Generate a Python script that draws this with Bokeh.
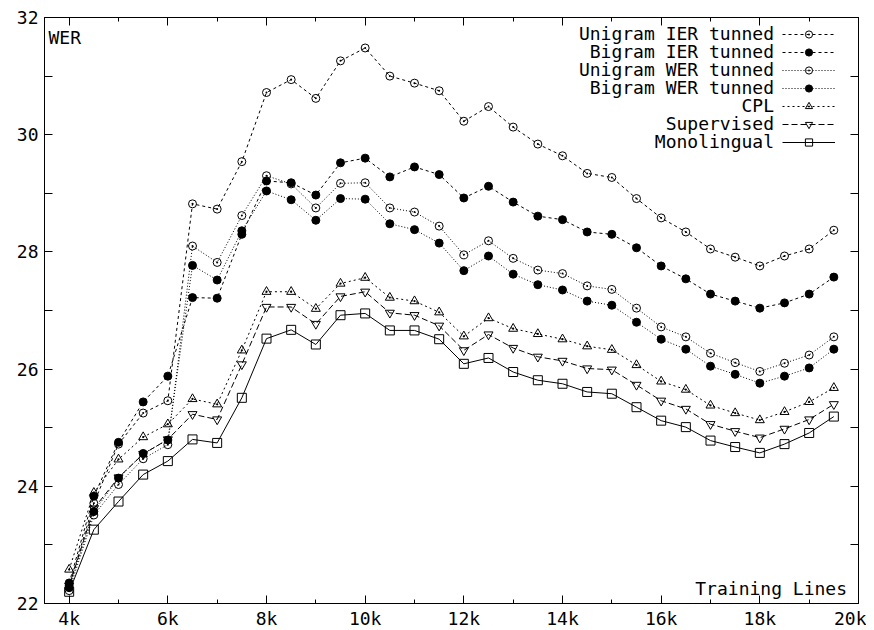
from bokeh.plotting import figure
from bokeh.models import (Range1d, FixedTicker, LinearAxis, PrintfTickFormatter,
                          CustomJSTickFormatter, Label, Legend, LegendItem)
from bokeh.embed import file_html
from bokeh.resources import INLINE

# ---------------- data ----------------
training_k = [4, 4.5, 5, 5.5, 6, 6.5, 7, 7.5, 8, 8.5, 9, 9.5, 10, 10.5, 11, 11.5,
              12, 12.5, 13, 13.5, 14, 14.5, 15, 15.5, 16, 16.5, 17, 17.5, 18, 18.5, 19, 19.5]

unigram_ier = [22.30, 23.71, 24.72, 25.25, 25.46, 28.82, 28.73, 29.54, 30.72, 30.94, 30.62, 31.26,
               31.48, 31.00, 30.88, 30.75, 30.23, 30.48, 30.13, 29.84, 29.64, 29.34, 29.27, 28.91,
               28.58, 28.34, 28.05, 27.91, 27.76, 27.93, 28.05, 28.37]
bigram_ier = [22.35, 23.83, 24.75, 25.44, 25.88, 27.22, 27.21, 28.30, 29.21, 29.18, 28.97, 29.52,
              29.60, 29.28, 29.45, 29.32, 28.92, 29.12, 28.85, 28.61, 28.55, 28.34, 28.30, 28.07,
              27.76, 27.54, 27.28, 27.16, 27.04, 27.13, 27.28, 27.57]
unigram_wer = [22.22, 23.51, 24.03, 24.47, 24.71, 28.10, 27.82, 28.62, 29.30, 29.16, 28.75, 29.17,
               29.18, 28.75, 28.68, 28.44, 27.95, 28.19, 27.89, 27.69, 27.63, 27.42, 27.36, 27.04,
               26.72, 26.55, 26.27, 26.11, 25.96, 26.10, 26.24, 26.55]
bigram_wer = [22.27, 23.57, 24.14, 24.56, 24.79, 27.77, 27.52, 28.36, 29.04, 28.89, 28.54, 28.91,
              28.90, 28.48, 28.38, 28.15, 27.68, 27.93, 27.62, 27.44, 27.35, 27.16, 27.09, 26.80,
              26.51, 26.34, 26.05, 25.91, 25.76, 25.88, 26.02, 26.34]
cpl = [22.58, 23.89, 24.46, 24.84, 25.06, 25.49, 25.40, 26.32, 27.32, 27.32, 27.03, 27.46,
       27.56, 27.22, 27.16, 26.97, 26.56, 26.87, 26.69, 26.60, 26.51, 26.39, 26.33, 26.07,
       25.79, 25.65, 25.38, 25.25, 25.13, 25.27, 25.44, 25.68]
supervised = [22.30, 23.62, 24.15, 24.55, 24.80, 25.23, 25.14, 26.08, 27.06, 27.06, 26.77, 27.24,
              27.32, 26.96, 26.92, 26.74, 26.32, 26.59, 26.36, 26.21, 26.14, 26.01, 25.99, 25.73,
              25.46, 25.32, 25.06, 24.94, 24.83, 24.98, 25.14, 25.40]
monolingual = [22.20, 23.26, 23.74, 24.20, 24.43, 24.80, 24.74, 25.51, 26.52, 26.67, 26.42, 26.92,
               26.95, 26.66, 26.66, 26.51, 26.09, 26.19, 25.95, 25.81, 25.75, 25.61, 25.58, 25.35,
               25.12, 25.01, 24.78, 24.67, 24.57, 24.72, 24.91, 25.19]

series_names = ["Unigram IER tunned", "Bigram IER tunned", "Unigram WER tunned",
                "Bigram WER tunned", "CPL", "Supervised", "Monolingual"]

x_major_ticks = [4, 6, 8, 10, 12, 14, 16, 18, 20]
x_minor_ticks = [5, 7, 9, 11, 13, 15, 17, 19]
y_major_ticks = [22, 24, 26, 28, 30, 32]
y_minor_ticks = [23, 25, 27, 29, 31]

# ---------------- layout ----------------
X0, X1, Y0, Y1 = 3.5, 20, 22, 32
FL, FT, FW, FH = 44, 17, 814, 586   # frame position in the picture
FONT = "DejaVu Sans Mono"
FS = "18px"


def dx(px):
    return X0 + (px - FL) / FW * (X1 - X0)


def dy(py):
    return Y1 - (py - FT) / FH * (Y1 - Y0)


p = figure(frame_width=FW, frame_height=FH, x_range=Range1d(X0, X1), y_range=Range1d(Y0, Y1),
           output_backend="svg", toolbar_location=None,
           min_border_left=44, min_border_top=17, min_border_right=8, min_border_bottom=0)
p.xgrid.visible = False
p.ygrid.visible = False
p.outline_line_color = "black"
p.background_fill_color = "white"


def style_axis(ax, ticks, minor, show_labels, minor_len, standoff):
    ax.ticker = FixedTicker(ticks=ticks, minor_ticks=minor)
    ax.axis_line_color = "black"
    ax.major_tick_line_color = "black"
    ax.minor_tick_line_color = "black"
    ax.major_tick_in = 8
    ax.major_tick_out = 0
    ax.minor_tick_in = minor_len
    ax.minor_tick_out = 0
    ax.major_label_text_font = FONT
    ax.major_label_text_color = "black"
    ax.major_label_text_font_size = FS
    if show_labels:
        ax.major_label_standoff = standoff
    else:
        ax.formatter = CustomJSTickFormatter(code="return '';")
        ax.major_label_standoff = 0


style_axis(p.xaxis[0], x_major_ticks, x_minor_ticks, True, 4, 4)
p.xaxis[0].formatter = PrintfTickFormatter(format="%dk")
style_axis(p.yaxis[0], y_major_ticks, y_minor_ticks, True, 8, 6)

top = LinearAxis()
style_axis(top, x_major_ticks, x_minor_ticks, False, 4, 0)
p.add_layout(top, "above")
right = LinearAxis()
style_axis(right, y_major_ticks, y_minor_ticks, False, 8, 0)
p.add_layout(right, "right")

styles = [
    (unigram_ier, "3 3", "circle_dot", 8, None),
    (bigram_ier, "3 3", "circle", 8, "black"),
    (unigram_wer, "1 2", "circle_dot", 8, None),
    (bigram_wer, "1 2", "circle", 8, "black"),
    (cpl, "2 3", "triangle_dot", 9, None),
    (supervised, "6 3", "inverted_triangle", 9, None),
    (monolingual, "solid", "square", 9, None),
]

items = []
for name, (vals, dash, marker, size, fill) in zip(series_names, styles):
    lr = p.line(training_k, vals, line_color="black", line_width=1, line_dash=dash)
    if fill is None:
        sr = p.scatter(training_k, vals, marker=marker, size=size, line_color="black",
                       line_width=1, fill_alpha=0)
    else:
        sr = p.scatter(training_k, vals, marker=marker, size=size, line_color="black",
                       line_width=1, fill_color=fill)
    items.append(LegendItem(label=" ", renderers=[lr, sr]))

legend = Legend(items=items, location=(738, 452), padding=0, margin=0, spacing=0,
                glyph_width=53, glyph_height=18, label_width=0, label_height=18,
                label_standoff=0, label_text_font_size="1px",
                background_fill_alpha=0, border_line_alpha=0)
p.add_layout(legend)

for i, name in enumerate(series_names):
    p.add_layout(Label(x=dx(773.5), y=dy(33.3 + 17.9 * i), text=name, text_align="right",
                       text_baseline="middle", text_font=FONT, text_font_size=FS,
                       text_color="black"))

p.add_layout(Label(x=dx(48), y=dy(37), text="WER", text_align="left",
                   text_baseline="middle", text_font=FONT, text_font_size=FS,
                   text_color="black"))
p.add_layout(Label(x=dx(846.5), y=dy(587.5), text="Training Lines", text_align="right",
                   text_baseline="middle", text_font=FONT, text_font_size=FS,
                   text_color="black"))

open("out.html", "w").write(file_html(p, INLINE))
